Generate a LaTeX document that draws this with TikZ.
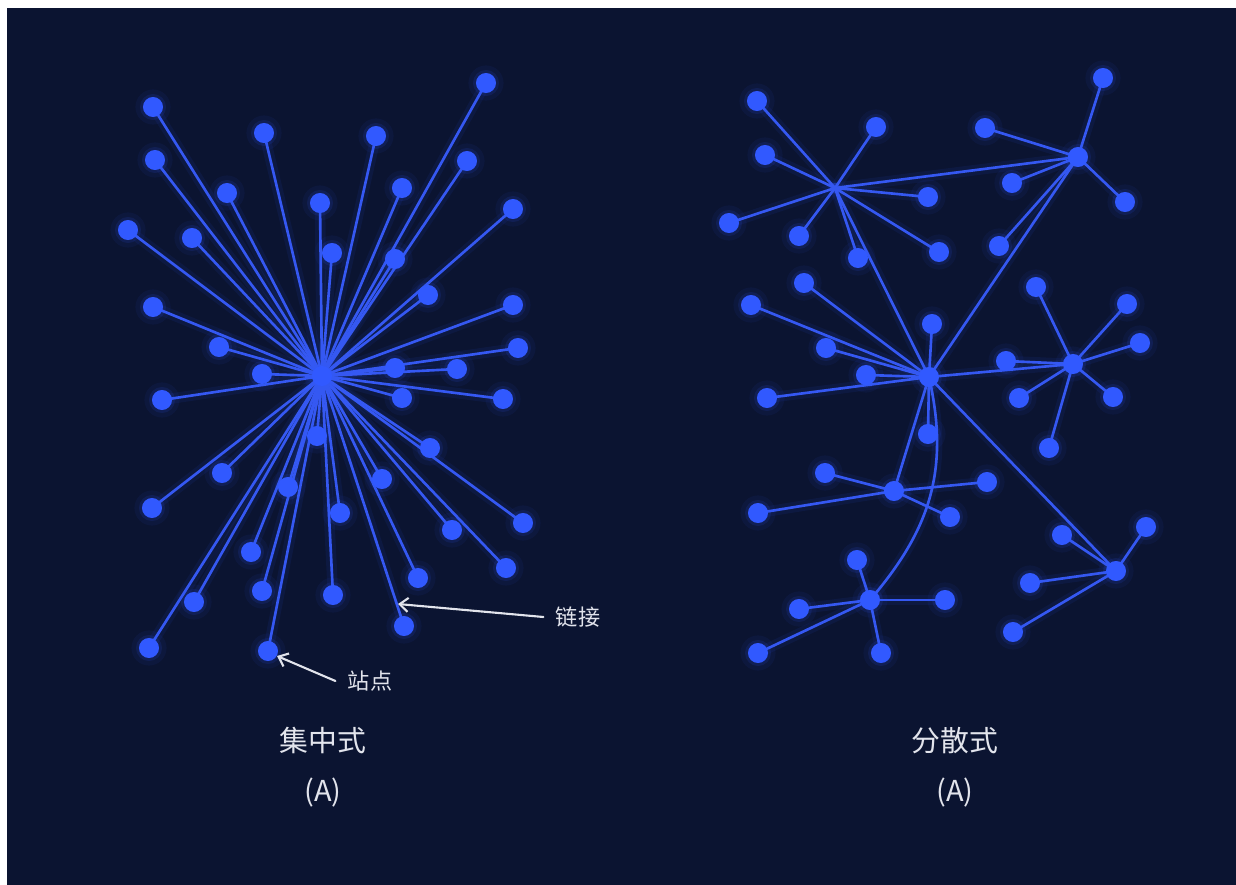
\documentclass[tikz,border=0pt]{standalone}
\usepackage{fontspec}
\newfontfamily\cjk{Noto Sans CJK SC}
\usetikzlibrary{arrows.meta}

\definecolor{navy}{HTML}{0B1431}
\definecolor{nodeblue}{HTML}{3159FF}
\definecolor{linkblue}{HTML}{3558F2}
\definecolor{labelgray}{HTML}{E2E4EC}

\tikzset{
  link/.style={draw=linkblue, line width=0.75pt},
  halo/.style={draw=nodeblue, line width=3pt, opacity=0.08},
  station/.style={circle, fill=nodeblue, inner sep=0pt, minimum size=5.7pt},
  haloinner/.style={circle, fill=nodeblue, inner sep=0pt, minimum size=7.4pt, opacity=0.12},
  haloouter/.style={circle, fill=nodeblue, inner sep=0pt, minimum size=10pt, opacity=0.06},
  title/.style={text=labelgray, font=\cjk\fontsize{8.2}{10}\selectfont},
  note/.style={text=labelgray, font=\cjk\fontsize{6.3}{8}\selectfont},
  pointer/.style={draw=labelgray, line width=0.6pt, -{Straight Barb[length=2.4pt, width=4pt]}}
}

% stations of the centralised net, all tied to one hub
\newcommand{\leftstations}{153/107, 264/133, 376/136, 486/83, 155/160, 467/161, 227/193,
  402/188, 320/203, 513/209, 128/230, 192/238, 332/253, 395/259, 428/295, 153/307,
  513/305, 219/347, 518/348, 395/368, 457/369, 262/374, 162/400, 402/398, 503/399,
  317/436, 430/448, 222/473, 382/479, 288/487, 152/508, 523/523, 340/513, 452/530,
  251/552, 506/568, 418/578, 262/591, 333/595, 194/602, 404/626, 149/648, 268/651}

% stations of the decentralised net, grouped by hub
\newcommand{\rightstations}{
  c1/{757/101, 876/127, 765/155, 928/197, 729/223, 799/236, 858/258, 939/252},
  c2/{1103/78, 985/128, 1012/183, 1125/202, 999/246},
  c3/{804/283, 751/305, 932/324, 826/348, 866/375, 767/398, 928/434},
  c4/{1036/287, 1127/304, 1140/343, 1006/361, 1019/398, 1113/397, 1049/448},
  c5/{825/473, 987/482, 758/513, 950/517},
  c6/{1062/535, 1146/527, 1030/583, 1013/632},
  c7/{857/560, 945/600, 799/609, 758/653, 881/653}}

\begin{document}
\begin{tikzpicture}[x=0.01cm, y=-0.01cm, line cap=round, line join=round]
    \useasboundingbox (0,0) rectangle (1236,885);
    \fill[white] (0,0) rectangle (1236,885);
    \fill[navy] (7,8) rectangle (1245,895);

    % hubs
    \coordinate (hubL) at (322,376);
    \coordinate (c1) at (835,188);
    \coordinate (c2) at (1078,157);
    \coordinate (c3) at (929,377);
    \coordinate (c4) at (1073,364);
    \coordinate (c5) at (894,491);
    \coordinate (c6) at (1116,571);
    \coordinate (c7) at (870,600);

    \foreach \x/\y [count=\i] in \leftstations
        \coordinate (s\i) at (\x,\y);
    \foreach \h/\group in \rightstations
        \foreach \x/\y [count=\i] in \group
            \coordinate (\h-\i) at (\x,\y);

    % links, glow first
    \foreach \sty in {halo, link} {
        \foreach \i in {1,...,43}
            \draw[\sty] (hubL) -- (s\i);
        \foreach \h/\group in \rightstations
            \foreach \x/\y [count=\i] in \group
                \draw[\sty] (\h) -- (\h-\i);
        \foreach \a/\b in {c1/c2, c1/c3, c2/c3, c3/c4, c3/c5, c3/c6}
            \draw[\sty] (\a) -- (\b);
        \draw[\sty] (c3) .. controls (950,470) and (930,530) .. (c7);
    }

    % stations
    \foreach \sty in {haloouter, haloinner, station} {
        \node[\sty] at (hubL) {};
        \foreach \i in {1,...,43}
            \node[\sty] at (s\i) {};
        \foreach \h in {c2, c3, c4, c5, c6, c7}
            \node[\sty] at (\h) {};
        \foreach \h/\group in \rightstations
            \foreach \x/\y [count=\i] in \group
                \node[\sty] at (\h-\i) {};
    }

    % annotations
    \node[note] (linkLabel) at (578,617) {链接};
    \coordinate (linkTip) at (398,604);
    \draw[pointer] (linkLabel.west) -- (linkTip);
    \node[note] (stationLabel) at (370,681) {站点};
    \coordinate (stationTip) at (277,656);
    \draw[pointer] (stationLabel.west) -- (stationTip);

    \node[title] (titleL) at (323,741) {集中式};
    \node[title] (tagL) at (323,793) {(A)};
    \node[title] (titleR) at (955,741) {分散式};
    \node[title] (tagR) at (955,793) {(A)};
\end{tikzpicture}
\end{document}
